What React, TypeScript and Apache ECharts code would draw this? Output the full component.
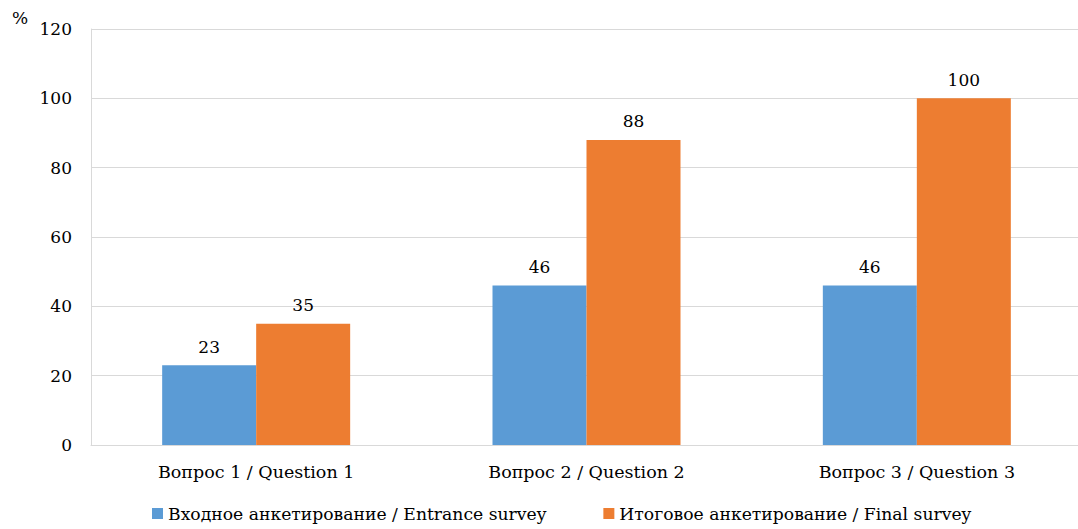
import React, { useEffect, useRef } from "react";
import * as echarts from "echarts";

const categories = ["Вопрос 1 / Question 1", "Вопрос 2 / Question 2", "Вопрос 3 / Question 3"];
const entranceValues = [23, 46, 46];
const finalValues = [35, 88, 100];
const seriesNames = ["Входное анкетирование / Entrance survey", "Итоговое анкетирование / Final survey"];

const FONT = "DejaVu Serif";

export default function App() {
  const ref = useRef<HTMLDivElement>(null);
  useEffect(() => {
    if (!ref.current) return;
    const chart = echarts.init(ref.current, undefined, { renderer: "svg" });
    chart.setOption({
      animation: false,
      textStyle: { fontFamily: FONT, color: "#000" },
      grid: { left: 91, top: 29, width: 991, height: 416, containLabel: false },
      legend: {
        bottom: 7,
        left: 152,
        padding: 0,
        itemWidth: 11,
        itemHeight: 11,
        itemGap: 57,
        icon: "rect",
        textStyle: { fontFamily: FONT, fontSize: 17.2, color: "#000" },
        data: seriesNames,
      },
      graphic: [
        { type: "text", left: 12, top: 9, style: { text: "%", fontFamily: FONT, fontSize: 17, fill: "#000" } },
      ],
      xAxis: {
        type: "category",
        data: categories,
        axisLine: { lineStyle: { color: "#d9d9d9" } },
        axisTick: { show: false },
        axisLabel: { fontFamily: FONT, fontSize: 17.5, color: "#000", margin: 18 },
      },
      yAxis: {
        type: "value",
        min: 0,
        max: 120,
        interval: 20,
        axisLine: { show: true, lineStyle: { color: "#d9d9d9" } },
        axisTick: { show: false },
        splitLine: { lineStyle: { color: "#d9d9d9" } },
        axisLabel: { fontFamily: FONT, fontSize: 17, color: "#000", margin: 19 },
      },
      series: [
        {
          name: seriesNames[0],
          type: "bar",
          data: entranceValues,
          barWidth: 94,
          barGap: "0%",
          itemStyle: { color: "#5B9BD5" },
          label: { show: true, position: "top", distance: 10, fontFamily: FONT, fontSize: 17, color: "#000" },
        },
        {
          name: seriesNames[1],
          type: "bar",
          data: finalValues,
          barWidth: 94,
          barGap: "0%",
          itemStyle: { color: "#ED7D31" },
          label: { show: true, position: "top", distance: 10, fontFamily: FONT, fontSize: 17, color: "#000" },
        },
      ],
    });
    return () => chart.dispose();
  }, []);
  return (
    <div style={{ width: 1078, height: 529, position: "absolute", left: 0, top: 0, overflow: "hidden" }}>
      <div ref={ref} style={{ width: 1090, height: 529 }} />
    </div>
  );
}
